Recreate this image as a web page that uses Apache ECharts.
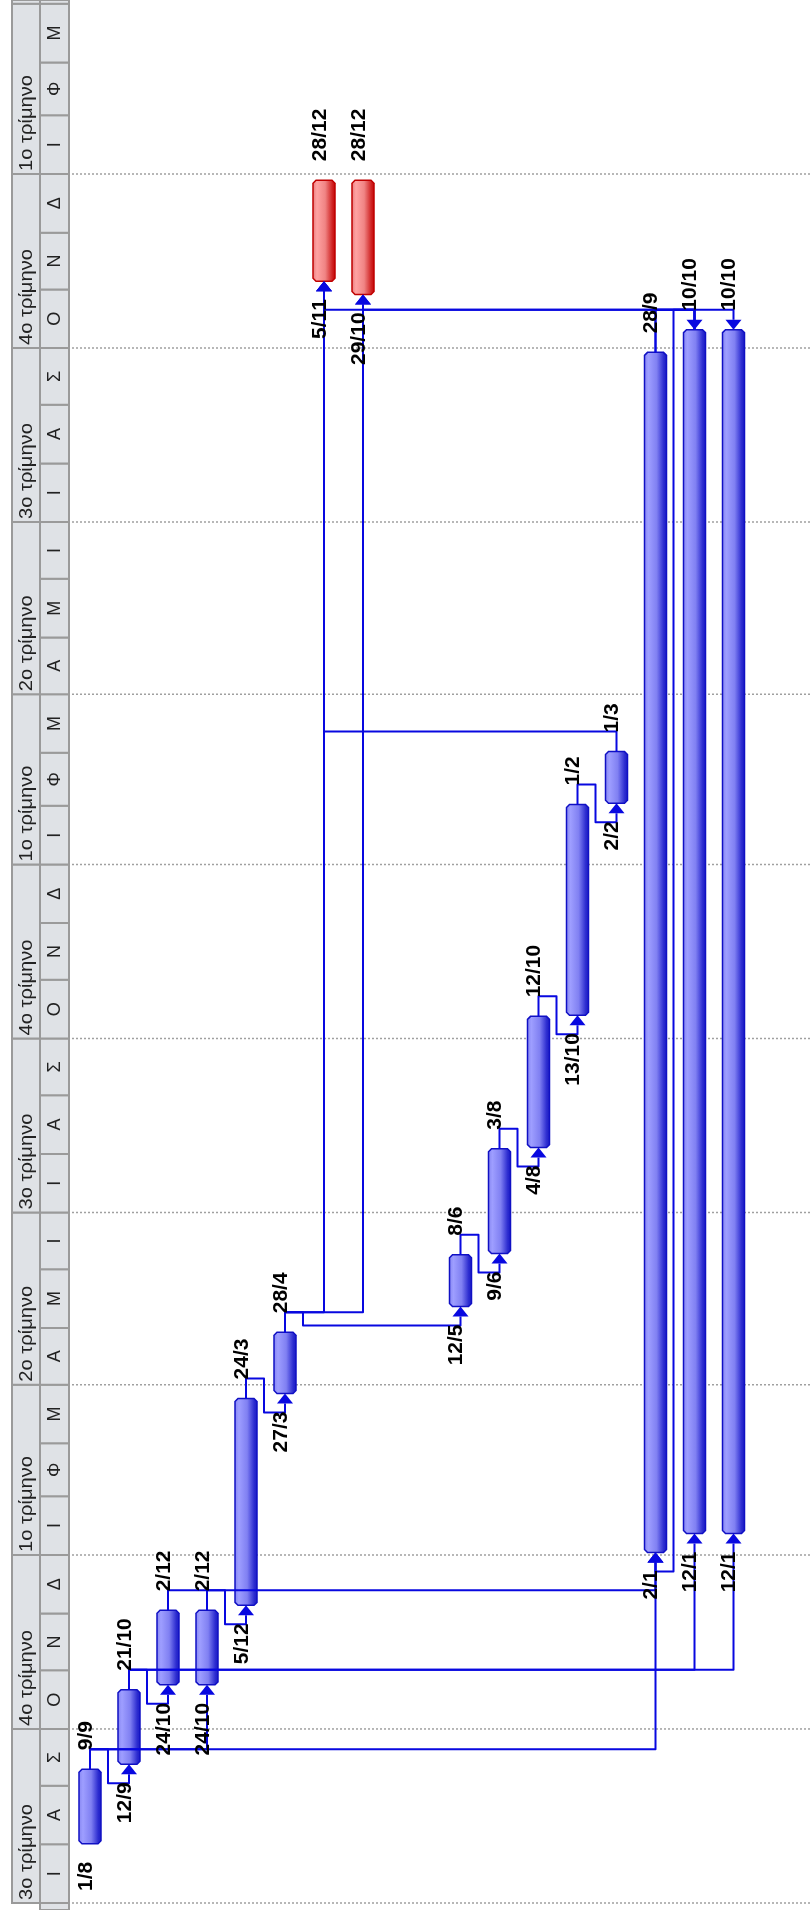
<!DOCTYPE html>
<html>
<head>
<meta charset="utf-8">
<script src="https://cdn.jsdelivr.net/npm/echarts@6/dist/echarts.min.js"></script>
<style>
  html, body { margin: 0; padding: 0; background: #fff; }
  #chart { width: 811px; height: 1910px; }
</style>
</head>
<body>
<div id="chart"></div>
<script>
// header labels
const monthLetters = ['Ι', 'Φ', 'Μ', 'Α', 'Μ', 'Ι', 'Ι', 'Α', 'Σ', 'Ο', 'Ν', 'Δ'];
const quarterNames = ['1ο τρίμηνο', '2ο τρίμηνο', '3ο τρίμηνο', '4ο τρίμηνο'];

// tasks: gantt row (one column each), start, finish, critical flag
const taskRows = [1, 2, 3, 4, 5, 6, 7, 8, 10.5, 11.5, 12.5, 13.5, 14.5, 15.5, 16.5, 17.5];
const taskStart = ['2008-08-01', '2008-09-12', '2008-10-24', '2008-10-24', '2008-12-05', '2009-03-27',
  '2010-11-05', '2010-10-29', '2009-05-12', '2009-06-09', '2009-08-04', '2009-10-13', '2010-02-02',
  '2009-01-02', '2009-01-12', '2009-01-12'];
const taskFinish = ['2008-09-09', '2008-10-21', '2008-12-02', '2008-12-02', '2009-03-24', '2009-04-28',
  '2010-12-28', '2010-12-28', '2009-06-08', '2009-08-03', '2009-10-12', '2010-02-01', '2010-03-01',
  '2010-09-28', '2010-10-10', '2010-10-10'];
const taskCritical = [0, 0, 0, 0, 0, 0, 1, 1, 0, 0, 0, 0, 0, 0, 0, 0];

// dependencies (indexes into the task arrays)
const linkFrom = [0, 0, 0, 1, 1, 1, 2, 3, 4, 5, 5, 5, 8, 9, 10, 11, 12, 14, 14, 14, 13, 13];
const linkTo   = [1, 3, 13, 2, 14, 15, 13, 4, 5, 8, 6, 7, 9, 10, 11, 12, 6, 6, 7, 13, 14, 15];
const linkType = ['FS', 'FS', 'FS', 'FS', 'FS', 'FS', 'FS', 'FS', 'FS', 'FS', 'FS', 'FS', 'FS', 'FS',
  'FS', 'FS', 'FS', 'FS', 'FS', 'FS', 'FF', 'FF'];

function ts(s, h) {
  const [y, m, d] = s.split('-').map(Number);
  return Date.UTC(y, m - 1, d, h);
}
function dm(s) {
  const [, m, d] = s.split('-').map(Number);
  return d + '/' + m;
}
const startTs = taskStart.map(s => ts(s, 8));
const finishTs = taskFinish.map(s => ts(s, 17));

const X_MIN = 0.5385, X_MAX = 19.487;
const Y_MIN = Date.UTC(2008, 5, 27, 7, 12), Y_MAX = Date.UTC(2011, 3, 2, 23, 30);
const H = 1910;
const LINK = '#0808e0';
const STUB = 20, AH = 10;
const HDR_FILL = '#dfe2e6', HDR_LINE = '#9a9a9a';

// months shown on the header
const months = [];
for (let y = 2008, m = 5; y < 2011 || m <= 3; ) {
  months.push([Date.UTC(y, m, 1), Date.UTC(y, m + 1, 1), m]);
  m++; if (m > 11) { m = 0; y++; }
}
const quarters = months.filter(d => d[2] % 3 === 0)
  .map(d => [d[0], Date.UTC(new Date(d[0]).getUTCFullYear(), d[2] + 3, 1), d[2] / 3]);

const clampY = v => Math.max(0, Math.min(H, v));

const chart = echarts.init(document.getElementById('chart'));

chart.setOption({
  animation: false,
  grid: { left: 72, right: 0, top: 0, bottom: 0 },
  xAxis: { type: 'value', min: X_MIN, max: X_MAX, show: false },
  yAxis: { type: 'time', min: Y_MIN, max: Y_MAX, show: false },
  series: [
    {
      // header: quarter cells + dotted quarter lines
      type: 'custom',
      z: 1,
      clip: false,
      data: quarters.map(d => [X_MIN, d[0]]),
      renderItem(params, api) {
        const q = quarters[params.dataIndex];
        const yTop = api.coord([X_MIN, q[1]])[1];
        const yBot = api.coord([X_MIN, q[0]])[1];
        const kids = [
          { type: 'rect', shape: { x: 12, y: clampY(yTop), width: 28, height: clampY(yBot) - clampY(yTop) },
            style: { fill: HDR_FILL, stroke: HDR_LINE, lineWidth: 2 } }
        ];
        if (yBot <= H && yBot > 60) {
          kids.push({ type: 'text', x: 27, y: yBot - 3, rotation: Math.PI / 2, scaleX: 1.06,
            style: { text: quarterNames[q[2]], font: '19px "Liberation Sans", Arial, sans-serif',
              fill: '#222', align: 'left', verticalAlign: 'middle' } });
        }
        if (yBot <= H && yBot > 10) {
          kids.push({ type: 'line', shape: { x1: 72, y1: yBot, x2: 811, y2: yBot },
            style: { stroke: '#a0a0a0', lineWidth: 1.5, lineDash: [2, 2] } });
        }
        return { type: 'group', children: kids };
      }
    },
    {
      // header: month cells
      type: 'custom',
      z: 2,
      clip: false,
      data: months.map(d => [X_MIN, d[0]]),
      renderItem(params, api) {
        const mo = months[params.dataIndex];
        const y0 = api.coord([X_MIN, mo[1]])[1];
        const y1 = api.coord([X_MIN, mo[0]])[1];
        const a = clampY(y0), b = clampY(y1);
        const kids = [
          { type: 'rect', shape: { x: 40, y: a, width: 29, height: b - a },
            style: { fill: HDR_FILL, stroke: HDR_LINE, lineWidth: 2 } }
        ];
        if (y0 >= 0 && y1 <= H) {
          kids.push({ type: 'text', x: 55, y: (y0 + y1) / 2, rotation: Math.PI / 2,
            style: { text: monthLetters[mo[2]], font: '18px "Liberation Sans", Arial, sans-serif',
              fill: '#222', align: 'center', verticalAlign: 'middle' } });
        }
        return { type: 'group', children: kids };
      }
    },
    {
      // bars
      type: 'custom',
      z: 3,
      data: taskRows.map((r, i) => [r, startTs[i], finishTs[i]]),
      encode: { x: 0, y: [1, 2] },
      renderItem(params, api) {
        const i = params.dataIndex;
        const p0 = api.coord([taskRows[i], startTs[i]]);
        const p1 = api.coord([taskRows[i], finishTs[i]]);
        const x = p0[0], yb = p0[1], yt = p1[1];
        const w = 11, c = 3;
        const crit = taskCritical[i];
        const stops = crit
          ? [{ offset: 0, color: '#e47a7a' }, { offset: 0.2, color: '#ffa2a2' }, { offset: 0.55, color: '#f08484' },
             { offset: 0.85, color: '#d02424' }, { offset: 1, color: '#c00000' }]
          : [{ offset: 0, color: '#8484f0' }, { offset: 0.2, color: '#9e9eff' }, { offset: 0.55, color: '#8080f2' },
             { offset: 0.85, color: '#2c2cd0' }, { offset: 1, color: '#1818c0' }];
        return {
          type: 'polygon',
          shape: { points: [[x - w + c, yt], [x + w - c, yt], [x + w, yt + c], [x + w, yb - c],
            [x + w - c, yb], [x - w + c, yb], [x - w, yb - c], [x - w, yt + c]] },
          style: { fill: new echarts.graphic.LinearGradient(0, 0, 1, 0, stops),
            stroke: crit ? '#c00000' : '#1010c4', lineWidth: 1.5 }
        };
      }
    },
    {
      // dependency links
      type: 'custom',
      z: 4,
      data: linkFrom.map(f => [taskRows[f], finishTs[f]]),
      encode: { x: 0, y: 1 },
      renderItem(params, api) {
        const k = params.dataIndex;
        const a = linkFrom[k], b = linkTo[k];
        const pa = api.coord([taskRows[a], finishTs[a]]);
        const pbS = api.coord([taskRows[b], startTs[b]]);
        const pbF = api.coord([taskRows[b], finishTs[b]]);
        let pts, arrow;
        if (linkType[k] === 'FF') {
          const lvl = Math.min(pa[1], pbF[1]) - STUB;
          pts = [[pa[0], pa[1]], [pa[0], lvl], [pbF[0], lvl], [pbF[0], pbF[1] - AH]];
          arrow = [[pbF[0], pbF[1]], [pbF[0] - 8, pbF[1] - AH], [pbF[0] + 8, pbF[1] - AH]];
        } else {
          const lvl = pa[1] - STUB;
          if (lvl - pbS[1] >= 12) {
            pts = [[pa[0], pa[1]], [pa[0], lvl], [pbS[0], lvl], [pbS[0], pbS[1] + AH]];
          } else {
            const leg = Math.min(pa[0], pbS[0]) + 18;
            const low = pbS[1] + 19;
            pts = [[pa[0], pa[1]], [pa[0], lvl], [leg, lvl], [leg, low], [pbS[0], low], [pbS[0], pbS[1] + AH]];
          }
          arrow = [[pbS[0], pbS[1]], [pbS[0] - 8, pbS[1] + AH], [pbS[0] + 8, pbS[1] + AH]];
        }
        return {
          type: 'group',
          children: [
            { type: 'polyline', shape: { points: pts }, style: { stroke: LINK, lineWidth: 2, fill: null, lineJoin: 'round' } },
            { type: 'polygon', shape: { points: arrow }, style: { fill: LINK } }
          ]
        };
      }
    },
    {
      // start / finish date labels
      type: 'custom',
      z: 5,
      data: taskRows.map((r, i) => [r, startTs[i], finishTs[i]]),
      encode: { x: 0, y: [1, 2] },
      renderItem(params, api) {
        const i = params.dataIndex;
        const p0 = api.coord([taskRows[i], startTs[i]]);
        const p1 = api.coord([taskRows[i], finishTs[i]]);
        const font = 'bold 21px "Liberation Sans", Arial, sans-serif';
        return {
          type: 'group',
          children: [
            { type: 'text', x: p0[0] - 4, y: p0[1] + 18, rotation: Math.PI / 2,
              style: { text: dm(taskStart[i]), font, fill: '#000', align: 'right', verticalAlign: 'middle' } },
            { type: 'text', x: p1[0] - 4, y: p1[1] - 19, rotation: Math.PI / 2,
              style: { text: dm(taskFinish[i]), font, fill: '#000', align: 'left', verticalAlign: 'middle' } }
          ]
        };
      }
    }
  ]
});
</script>
</body>
</html>
